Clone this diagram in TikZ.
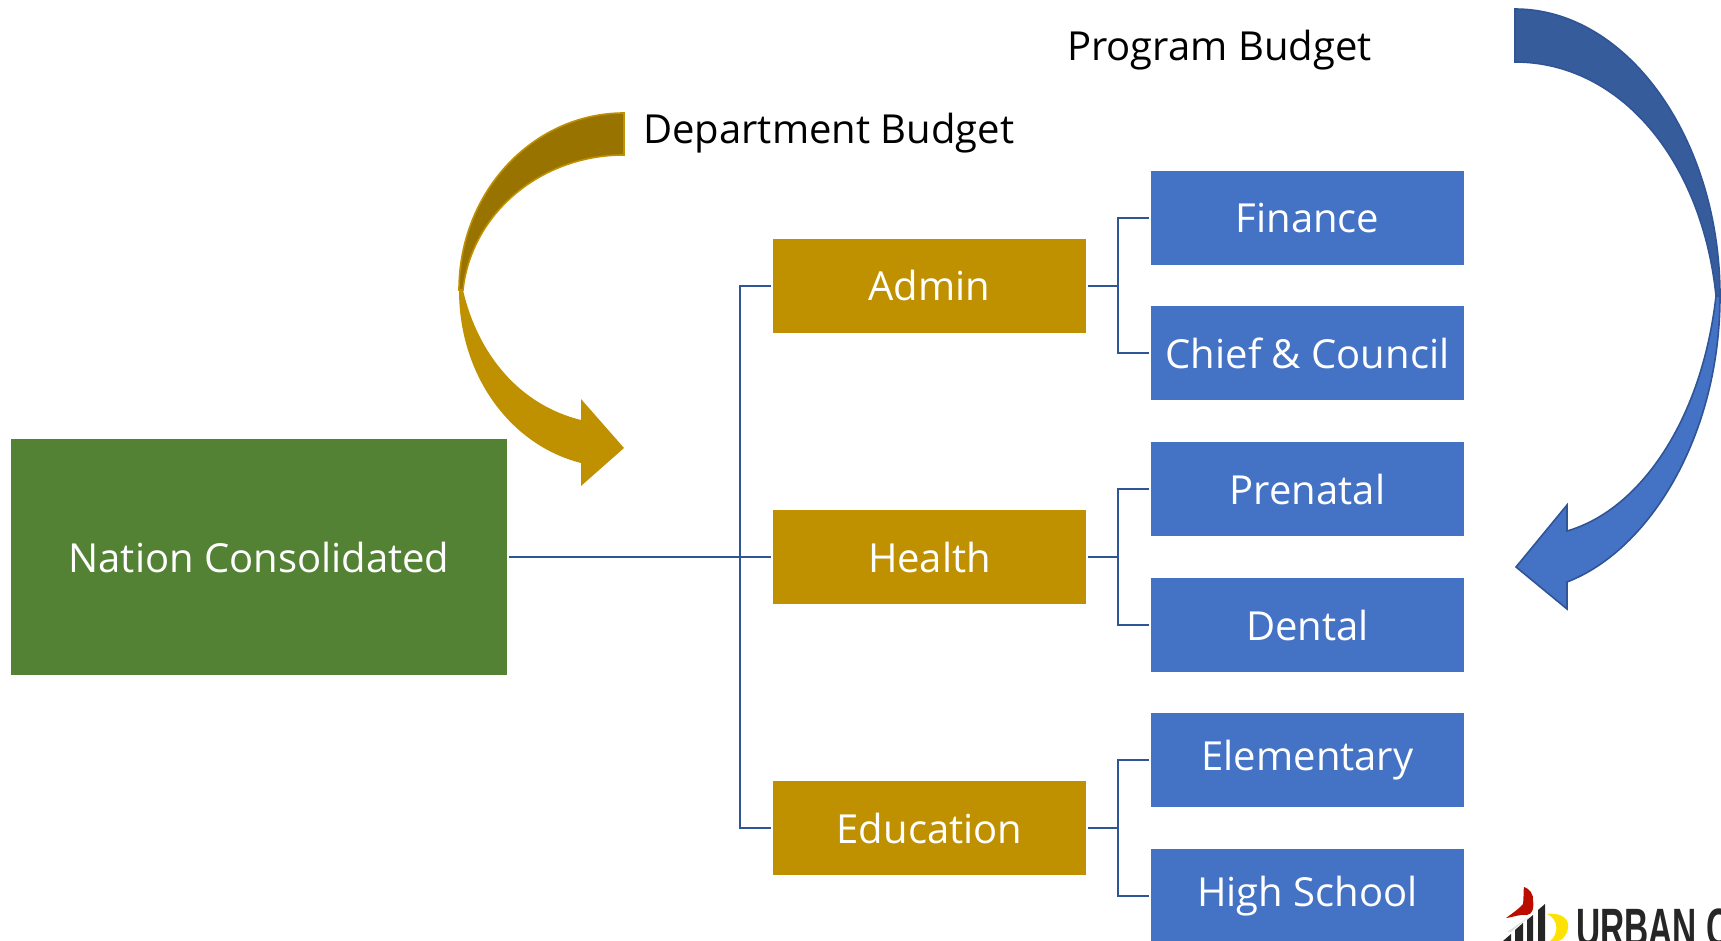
\documentclass[tikz,border=0pt]{standalone}
\usepackage{fontspec}
\setmainfont{Open Sans}
\newfontfamily\logofont{Liberation Sans}[BoldFont={Liberation Sans Bold}]
\definecolor{cgreen}{HTML}{548235}
\definecolor{cgold}{HTML}{BF9000}
\definecolor{cdgold}{HTML}{997300}
\definecolor{cblue}{HTML}{4472C4}
\definecolor{cdblue}{HTML}{365C9C}
\definecolor{cline}{HTML}{2F5597}
\tikzset{
  topbox/.style={fill=cgreen,minimum width=496pt,minimum height=236pt},
  deptbox/.style={fill=cgold,minimum width=313pt,minimum height=94pt},
  progbox/.style={fill=cblue,minimum width=313pt,minimum height=94pt},
  boxtext/.style={inner sep=0pt,text=white,font=\fontsize{40}{48}\selectfont},
  lbl/.style={inner sep=0pt,text=black,font=\fontsize{40}{48}\selectfont},
  conn/.style={draw=cline,line width=2.4pt},
}
\begin{document}
\begin{tikzpicture}[x=1pt,y=-1pt]
\useasboundingbox (0,0) rectangle (1721,941);
\clip (0,0) rectangle (1721,941);
% curved arrows
\fill[cgold] (459,290) .. controls (459,375) and (510,445) .. (581,463)
  -- (581,486) -- (624,448) -- (581,399) -- (581,420)
  .. controls (520,405) and (478,355) .. (463,290) -- cycle;
\filldraw[fill=cdgold,draw=cgold,line width=1.6pt] (624,113) .. controls (533,113) and (459,192) .. (459,290)
  -- (463,290) .. controls (471,215) and (539,155) .. (624,155) -- cycle;
\filldraw[fill=cblue,draw=cline,line width=1.6pt] (1720,296) .. controls (1720,435) and (1650,550) .. (1567,582)
  -- (1567,609) -- (1516,567) -- (1567,505) -- (1567,531)
  .. controls (1640,510) and (1702,420) .. (1716,296) -- cycle;
\filldraw[fill=cdblue,draw=cline,line width=1.6pt] (1515,9) .. controls (1628,9) and (1720,140) .. (1720,296)
  -- (1716,296) .. controls (1702,160) and (1620,62) .. (1515,62) -- cycle;
% boxes
\node[topbox,boxtext] (nation) at (259,557) {Nation Consolidated};
\node[deptbox,boxtext] (admin) at (929.5,286) {Admin};
\node[deptbox,boxtext] (health) at (929.5,557) {Health};
\node[deptbox,boxtext] (education) at (929.5,828) {Education};
\node[progbox,boxtext] (finance) at (1307.5,218) {Finance};
\node[progbox,boxtext] (chief) at (1307.5,353) {Chief \& Council};
\node[progbox,boxtext] (prenatal) at (1307.5,489) {Prenatal};
\node[progbox,boxtext] (dental) at (1307.5,625) {Dental};
\node[progbox,boxtext] (elementary) at (1307.5,760) {Elementary};
\node[progbox,boxtext] (highschool) at (1307.5,896) {High School};
% labels
\node[lbl,anchor=west] (deptlabel) at (643,133) {Department Budget};
\node[lbl,anchor=west] (proglabel) at (1067,50) {Program Budget};
% connectors
\coordinate (tr) at (740,557);
\coordinate (ta) at (1118,286);
\coordinate (tb) at (1118,557);
\coordinate (tc) at (1118,828);
\draw[conn,shorten <=2pt,shorten >=2pt] (nation.east) -- (health.west);
\draw[conn,shorten >=2pt] (tr) |- (admin.west);
\draw[conn,shorten >=2pt] (tr) |- (education.west);
\draw[conn,shorten <=2pt] (admin.east) -- (ta);
\draw[conn,shorten <=2pt] (health.east) -- (tb);
\draw[conn,shorten <=2pt] (education.east) -- (tc);
\draw[conn,shorten >=2pt] (ta) |- (finance.west);
\draw[conn,shorten >=2pt] (ta) |- (chief.west);
\draw[conn,shorten >=2pt] (tb) |- (prenatal.west);
\draw[conn,shorten >=2pt] (tb) |- (dental.west);
\draw[conn,shorten >=2pt] (tc) |- (elementary.west);
\draw[conn,shorten >=2pt] (tc) |- (highschool.west);
% logo
\fill[black!85] (1503,941) -- (1511,934) -- (1511,941) -- cycle;
\fill[black!85] (1515,941) -- (1515,930) -- (1523,923) -- (1523,941) -- cycle;
\fill[black!85] (1527,941) -- (1527,920) -- (1533,915) -- (1533,941) -- cycle;
\fill[black!85] (1538,941) -- (1538,910) -- (1545,904) -- (1545,941) -- cycle;
\fill[black!12] (1507,932) -- (1530,916) -- (1511,932) -- cycle;
\fill[yellow!85!orange] (1547,914) .. controls (1562,912) and (1572,920) .. (1567,932) .. controls (1565,937) and (1562,940) .. (1558,941) -- (1550,941) .. controls (1558,935) and (1560,920) .. (1547,914) -- cycle;
\fill[red!70!black!90!orange] (1506,918) .. controls (1514,912) and (1520,908) .. (1523,904) .. controls (1524,898) and (1523,892) .. (1524,887) .. controls (1529,888) and (1534,895) .. (1533,900) .. controls (1534,908) and (1533,914) .. (1527,915) .. controls (1520,914) and (1514,917) .. (1506,918) -- cycle;
\node[inner sep=0pt,anchor=base west,text=black!85,font=\logofont\bfseries\fontsize{54}{60}\selectfont,xscale=0.62] (logotext) at (1576,946) {URBAN C};
\end{tikzpicture}
\end{document}
